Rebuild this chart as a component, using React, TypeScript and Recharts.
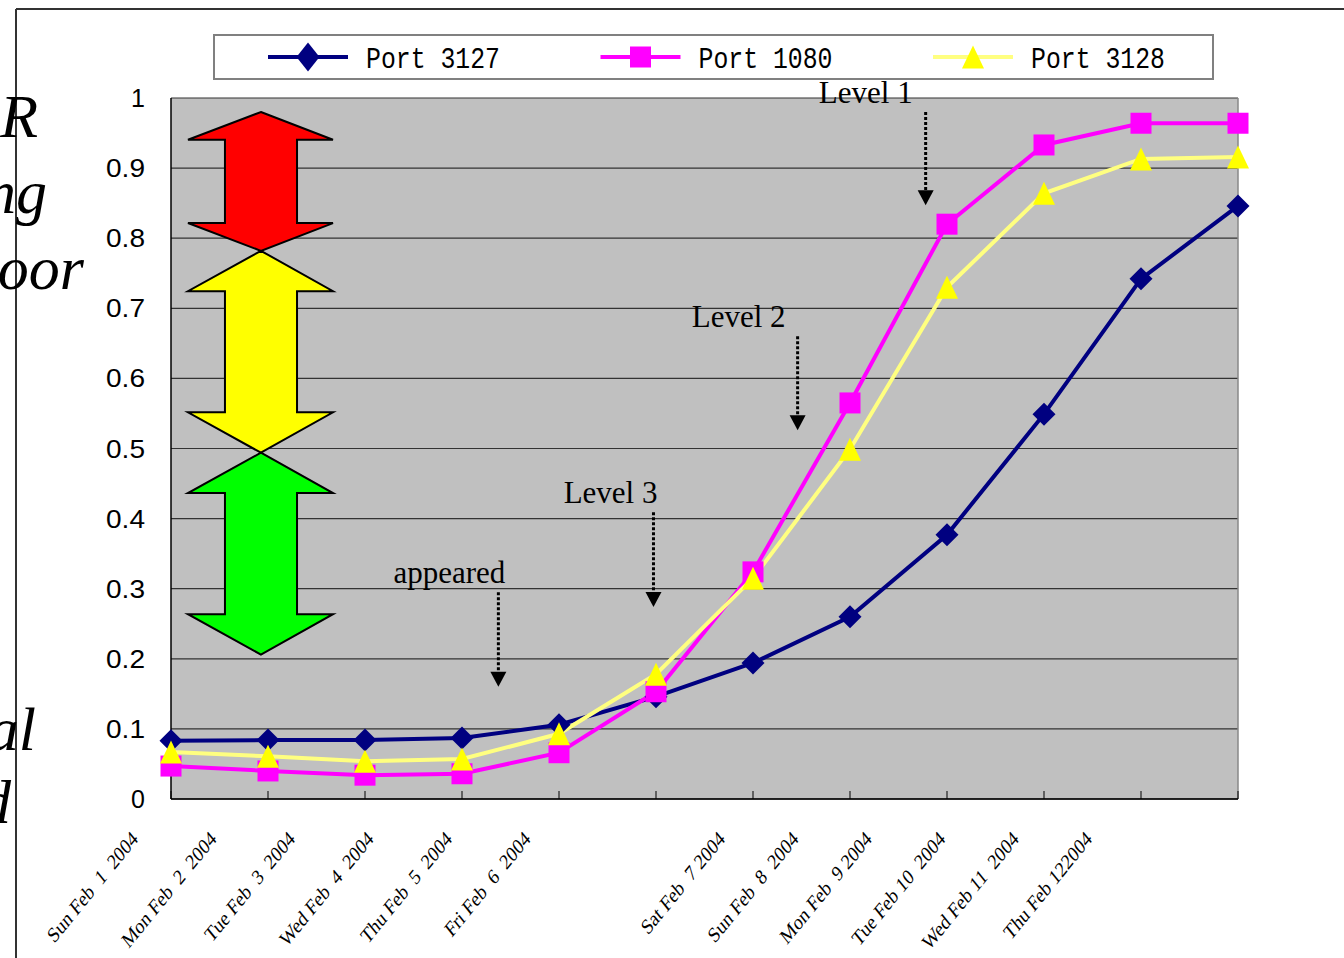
import { LineChart, Line, XAxis, YAxis, CartesianGrid, ReferenceArea, ReferenceLine } from "recharts";

const dates = [
  "Sun Feb  1  2004",
  "Mon Feb  2  2004",
  "Tue Feb  3  2004",
  "Wed Feb  4  2004",
  "Thu Feb  5  2004",
  "Fri Feb  6  2004",
  "Sat Feb  7 2004",
  "Sun Feb  8  2004",
  "Mon Feb  9 2004",
  "Tue Feb 10  2004",
  "Wed Feb 11  2004",
  "Thu Feb 122004",
];
const port3127 = [0.083, 0.084, 0.084, 0.087, 0.106, 0.146, 0.194, 0.26, 0.377, 0.549, 0.742, 0.846];
const port1080 = [0.047, 0.04, 0.034, 0.036, 0.066, 0.153, 0.324, 0.565, 0.82, 0.933, 0.964, 0.964];
const port3128 = [0.067, 0.061, 0.054, 0.057, 0.093, 0.178, 0.315, 0.499, 0.73, 0.864, 0.913, 0.916];
const yTicks = [0, 0.1, 0.2, 0.3, 0.4, 0.5, 0.6, 0.7, 0.8, 0.9, 1];

// severity bands drawn as double arrows on the left
const bands = [
  { from: 0.98, to: 0.782, color: "#FF0000" },
  { from: 0.782, to: 0.494, color: "#FFFF00" },
  { from: 0.494, to: 0.206, color: "#00FF00" },
];

const notes = [
  { text: "Level 1", x: 7.78, top: 0.98, tip: 0.847, dx: -13 },
  { text: "Level 2", x: 6.46, top: 0.66, tip: 0.526, dx: -12 },
  { text: "Level 3", x: 4.974, top: 0.409, tip: 0.274, dx: 4 },
  { text: "appeared", x: 3.375, top: 0.295, tip: 0.16, dx: 7 },
];

const series = [
  { key: "p3127", name: "Port 3127", values: port3127, line: "#000080", mark: "#000080", shape: "diamond" },
  { key: "p1080", name: "Port 1080", values: port1080, line: "#FF00FF", mark: "#FF00FF", shape: "square" },
  { key: "p3128", name: "Port 3128", values: port3128, line: "#FFFF80", mark: "#FFFF00", shape: "triangle" },
];

const rows = dates.map((d, i) => ({
  idx: i,
  date: d,
  p3127: port3127[i],
  p1080: port1080[i],
  p3128: port3128[i],
}));

function marker(shape: string, cx: number, cy: number, fill: string, key?: any, tall = 0) {
  if (shape === "diamond") {
    const r = 11.5;
    return <path key={key} d={`M${cx},${cy - r - tall}L${cx + r},${cy}L${cx},${cy + r + tall}L${cx - r},${cy}Z`} fill={fill} />;
  }
  if (shape === "square") {
    const r = 10.5;
    return <rect key={key} x={cx - r} y={cy - r} width={r * 2} height={r * 2} fill={fill} />;
  }
  const h = 11.5;
  return <path key={key} d={`M${cx},${cy - h}L${cx + 11},${cy + h}L${cx - 11},${cy + h}Z`} fill={fill} />;
}

const XTick = (props: any) => {
  const { x, y, payload } = props;
  const i = payload.value as number;
  const shift = i < 6 ? 32 + 18.5 * i : 27 + 23.6 * (i - 6);
  const ex = x - shift;
  const ey = y + 41;
  return (
    <g>
      <line x1={x} y1={y} x2={x} y2={y - 8} stroke="#000" />
      <text
        x={0}
        y={0}
        transform={`translate(${ex} ${ey}) scale(0.88 1.08) rotate(-45)`}
        textAnchor="end"
        fontFamily="'Liberation Serif', serif"
        fontSize={20}
        fill="#000"
      >
        {dates[i].replace(/ /g, "\u00A0")}
      </text>
    </g>
  );
};

const YTick = (props: any) => {
  const { x, y, payload } = props;
  const v = payload.value as number;
  const label = v === 0 ? "0" : v === 1 ? "1" : v.toFixed(1);
  return (
    <text
      x={x}
      y={y + 9}
      textAnchor="end"
      fontFamily="'Liberation Sans', sans-serif"
      fontSize={25}
      fill="#000"
      textLength={label.length > 1 ? 39 : undefined}
      lengthAdjust="spacingAndGlyphs"
    >
      {label}
    </text>
  );
};

const arrowShape = (color: string) => (p: any) => {
  const { x, y, width: w, height: h } = p;
  const head = h * 0.2;
  const sl = x + w * 0.255;
  const sr = x + w * 0.752;
  const cx = x + w * 0.503;
  const d = `M${cx},${y}L${x + w},${y + head}L${sr},${y + head}L${sr},${y + h - head}L${x + w},${y + h - head}L${cx},${y + h}L${x},${y + h - head}L${sl},${y + h - head}L${sl},${y + head}L${x},${y + head}Z`;
  return <path d={d} fill={color} stroke="#000" strokeWidth={2} strokeLinejoin="miter" />;
};

const noteShape = (text: string, dx: number) => (p: any) => {
  const { x1, y1, y2 } = p;
  return (
    <g>
      <line x1={x1} y1={y1} x2={x1} y2={y2 - 14} stroke="#000" strokeWidth={3} strokeDasharray="3 2" />
      <path d={`M${x1 - 8},${y2 - 15}L${x1 + 8},${y2 - 15}L${x1},${y2}Z`} fill="#000" />
      <text x={x1 + dx} y={y1 - 9} textAnchor="end" fontFamily="'Liberation Serif', serif" fontSize={31} fill="#000">
        {text}
      </text>
    </g>
  );
};

function LegendBox() {
  return (
    <svg width={1344} height={100} style={{ position: "absolute", left: 0, top: 0 }}>
      <rect x={214} y={35} width={999} height={44} fill="#fff" stroke="#808080" strokeWidth={2} />
      {series.map((s, i) => {
        const lx = 268 + 332.5 * i;
        return (
          <g key={s.key}>
            <line x1={lx} y1={57} x2={lx + 80} y2={57} stroke={s.line} strokeWidth={4} />
            {marker(s.shape, lx + 40, 57, s.mark, undefined, 3)}
            <text
              x={lx + 98}
              y={68}
              fontFamily="'Liberation Mono', monospace"
              fontSize={29}
              fill="#000"
              textLength={134}
              lengthAdjust="spacingAndGlyphs"
            >
              {s.name}
            </text>
          </g>
        );
      })}
    </svg>
  );
}

function SideText() {
  const f = { fontFamily: "'Liberation Serif', serif", fontStyle: "italic" as const, fontSize: 62, fill: "#000" };
  return (
    <svg width={1344} height={958} style={{ position: "absolute", left: 0, top: 0, pointerEvents: "none" }}>
      <line x1={16} y1={9} x2={1344} y2={9} stroke="#333" strokeWidth={2} />
      <line x1={16} y1={9} x2={16} y2={958} stroke="#333" strokeWidth={2} />
      <text x={38} y={137} textAnchor="end" {...f}>R</text>
      <text x={47} y={213} textAnchor="end" {...f}>ng</text>
      <text x={84} y={289} textAnchor="end" {...f}>Poor</text>
      <text x={36} y={750} textAnchor="end" {...f}>Normal</text>
      <text x={11} y={823} textAnchor="end" {...f}>Good</text>
    </svg>
  );
}

export default function App() {
  return (
    <div style={{ position: "absolute", left: 0, top: 0, width: 1344, height: 958, background: "#fff", overflow: "hidden" }}>
      <LineChart width={1344} height={958} data={rows} margin={{ top: 98, right: 106, bottom: 99, left: 71 }}>
        <CartesianGrid vertical={false} fill="#C0C0C0" fillOpacity={1} stroke="#333" strokeWidth={1.2} />
        <XAxis
          dataKey="idx"
          type="number"
          domain={[0, 11]}
          ticks={rows.map((r) => r.idx)}
          interval={0}
          height={60}
          tickSize={0}
          tickMargin={0}
          tickLine={false}
          axisLine={{ stroke: "#000", strokeWidth: 1.5 }}
          tick={<XTick />}
        />
        <YAxis
          type="number"
          domain={[0, 1]}
          ticks={yTicks}
          width={100}
          tickSize={0}
          tickMargin={26}
          tickLine={false}
          axisLine={{ stroke: "#000", strokeWidth: 1.5 }}
          tick={<YTick />}
        />
        <ReferenceLine x={11} stroke="#888" strokeWidth={1.5} />
        {bands.map((b) => (
          <ReferenceArea
            key={b.color}
            x1={0.175}
            x2={1.67}
            y1={b.to}
            y2={b.from}
            shape={arrowShape(b.color)}
          />
        ))}
        {notes.map((n) => (
          <ReferenceLine
            key={n.text}
            segment={[
              { x: n.x, y: n.top },
              { x: n.x, y: n.tip },
            ]}
            shape={noteShape(n.text, n.dx)}
          />
        ))}
        {series.map((s) => (
          <Line
            key={s.key}
            dataKey={s.key}
            name={s.name}
            stroke={s.line}
            strokeWidth={4}
            isAnimationActive={false}
            activeDot={false}
            dot={(p: any) => marker(s.shape, p.cx, p.cy, s.mark, p.key ?? `${s.key}-${p.index}`)}
          />
        ))}
      </LineChart>
      <LegendBox />
      <SideText />
    </div>
  );
}
